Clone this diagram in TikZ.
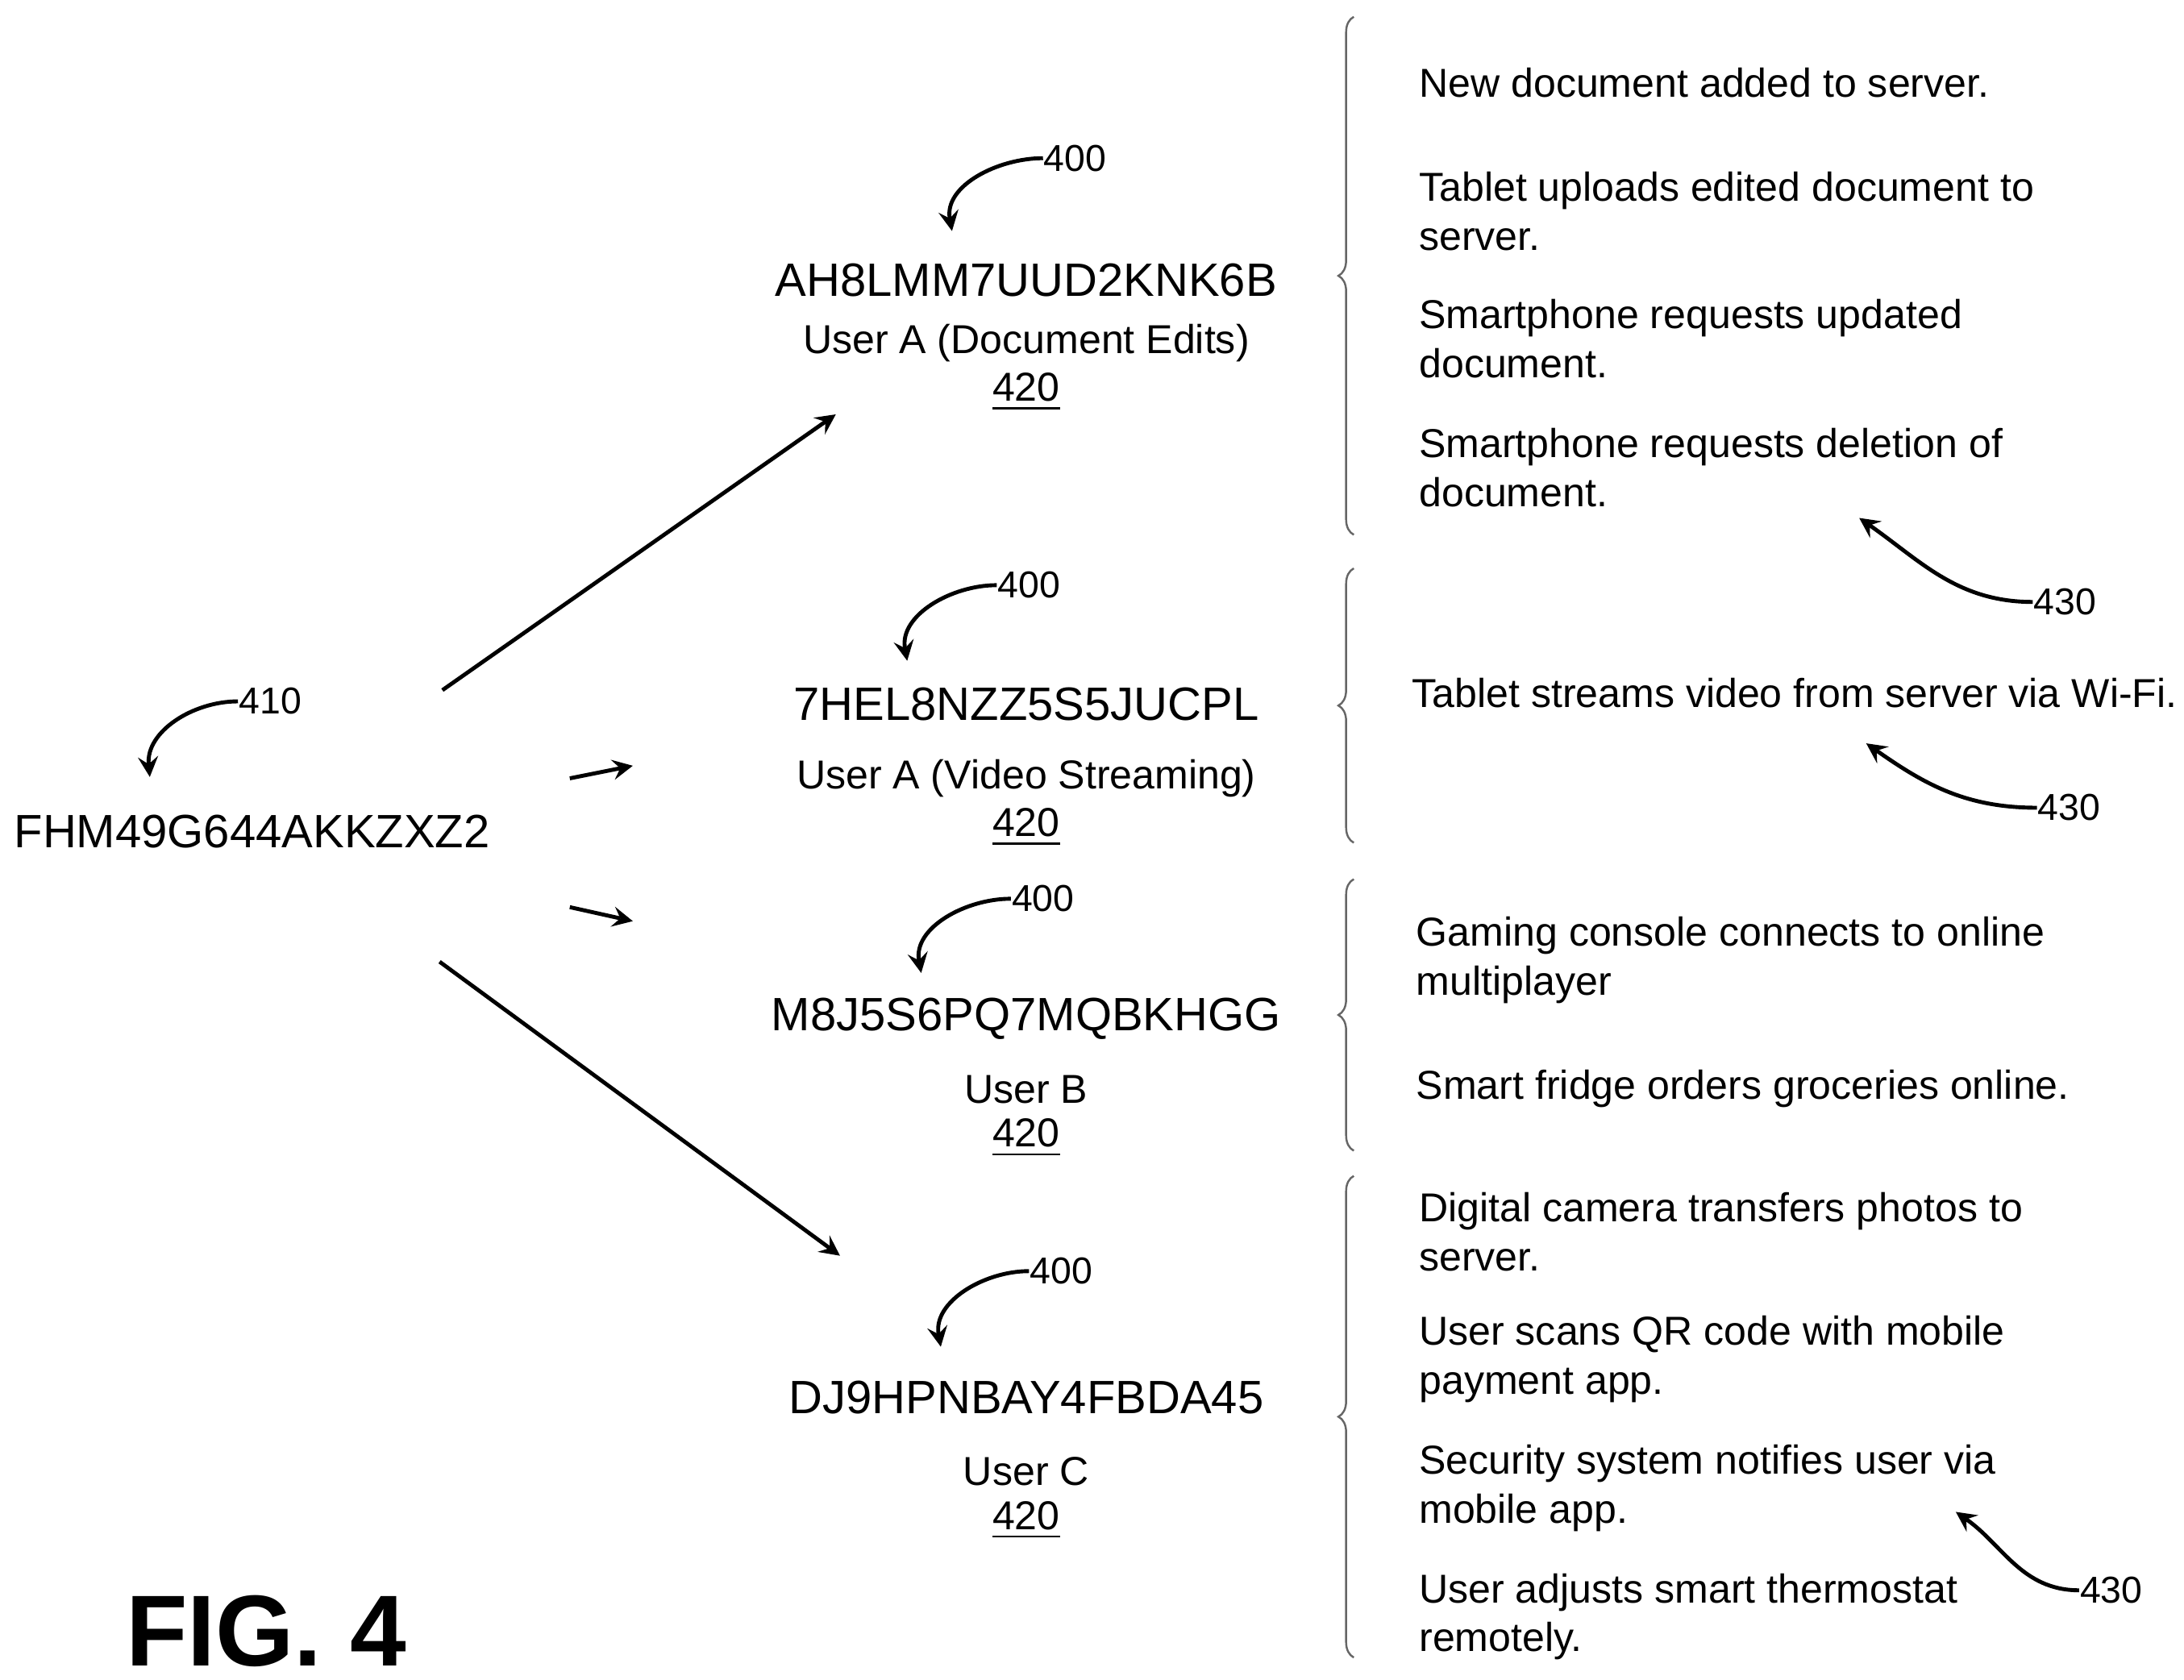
\documentclass[tikz,border=0pt]{standalone}
\usepackage{fontspec}
\setmainfont{Liberation Sans}
\usetikzlibrary{arrows,calc,positioning,decorations.pathreplacing}
\begin{document}
\begin{tikzpicture}[x=0.01cm,y=-0.01cm]
%styles
\tikzstyle{code}=[font=\fontsize{9.5pt}{11pt}\selectfont,inner sep=1pt]
\tikzstyle{sub}=[font=\fontsize{8.2pt}{10pt}\selectfont,inner sep=1pt]
\tikzstyle{desc}=[font=\fontsize{8.2pt}{9.9pt}\selectfont,anchor=west,align=left,inner sep=0pt]
\tikzstyle{refnum}=[font=\fontsize{7.6pt}{9pt}\selectfont,anchor=west,inner sep=0pt]
\tikzstyle{link}=[->,>=stealth,line width=0.8pt]
\tikzstyle{bracket}=[decorate,decoration={brace,amplitude=0.11cm},line width=0.4pt,gray!80!black]
\useasboundingbox (0,0) rectangle (1560,1200);

%source
\node[code] (src) at (180,594) {FHM49G644AKKZXZ2};
\node[refnum] (r410) at (170,501) {410};
\coordinate (e410) at (107,555);
\draw[link] (r410.west) to[out=180,in=95] (e410);

%groups
\node[code] (c1) at (733,200) {AH8LMM7UUD2KNK6B};
\node[sub] (u1) at (733,245) {User A (Document Edits)};
\node[sub] (n1) at (733,280) {\underline{420}};
\node[code] (c2) at (733,503) {7HEL8NZZ5S5JUCPL};
\node[sub] (u2) at (733,556) {User A (Video Streaming)};
\node[sub] (n2) at (733,591) {\underline{420}};
\node[code] (c3) at (733,728) {M8J5S6PQ7MQBKHGG};
\node[sub] (u3) at (733,778) {User B};
\node[sub] (n3) at (733,813) {\underline{420}};
\node[code] (c4) at (733,998) {DJ9HPNBAY4FBDA45};
\node[sub] (u4) at (733,1051) {User C};
\node[sub] (n4) at (733,1086) {\underline{420}};

\foreach \l/\x/\y/\ex/\ey in {a/745/113/680/165, b/712/418/648/472, c/722/642/658/695, d/735/908/672/962}{
  \node[refnum] (r400\l) at (\x,\y) {400};
  \coordinate (e400\l) at (\ex,\ey);
  \draw[link] (r400\l.west) to[out=180,in=100] (e400\l);
}

%fan-out
\coordinate (s1) at (316,493); \coordinate (t1) at (597,296);
\coordinate (s2) at (407,556); \coordinate (t2) at (452,547);
\coordinate (s3) at (407,648); \coordinate (t3) at (452,658);
\coordinate (s4) at (314,687); \coordinate (t4) at (600,897);
\foreach \i in {1,...,4}{\draw[link] (s\i) -- (t\i);}

%braces
\draw[bracket] (967,382) -- (967,12);
\draw[bracket] (967,602) -- (967,406);
\draw[bracket] (967,822) -- (967,628);
\draw[bracket] (967,1184) -- (967,840);

%descriptions
\node[desc] (d1) at (1013,59) {New document added to server.};
\node[desc] (d2) at (1013,151) {Tablet uploads edited document to\\server.};
\node[desc] (d3) at (1013,242) {Smartphone requests updated\\document.};
\node[desc] (d4) at (1013,334) {Smartphone requests deletion of\\document.};
\node[desc] (d5) at (1008,495) {Tablet streams video from server via Wi-Fi.};
\node[desc] (d6) at (1011,686) {Gaming console connects to online\\multiplayer};
\node[desc] (d7) at (1011,778) {Smart fridge orders groceries online.};
\node[desc] (d8) at (1013,880) {Digital camera transfers photos to\\server.};
\node[desc] (d9) at (1013,971) {User scans QR code with mobile\\payment app.};
\node[desc] (d10) at (1013,1063) {Security system notifies user via\\mobile app.};
\node[desc] (d11) at (1013,1155) {User adjusts smart thermostat\\remotely.};

\foreach \l/\x/\y/\ex/\ey in {a/1452/430/1328/370, b/1455/577/1333/531, c/1485/1136/1397/1080}{
  \node[refnum] (r430\l) at (\x,\y) {430};
  \coordinate (e430\l) at (\ex,\ey);
  \draw[link] (r430\l.west) to[out=180,in=-35] (e430\l);
}

\node[font=\fontsize{20.5pt}{22pt}\selectfont\bfseries] (fig) at (190,1165) {FIG. 4};
\end{tikzpicture}
\end{document}
